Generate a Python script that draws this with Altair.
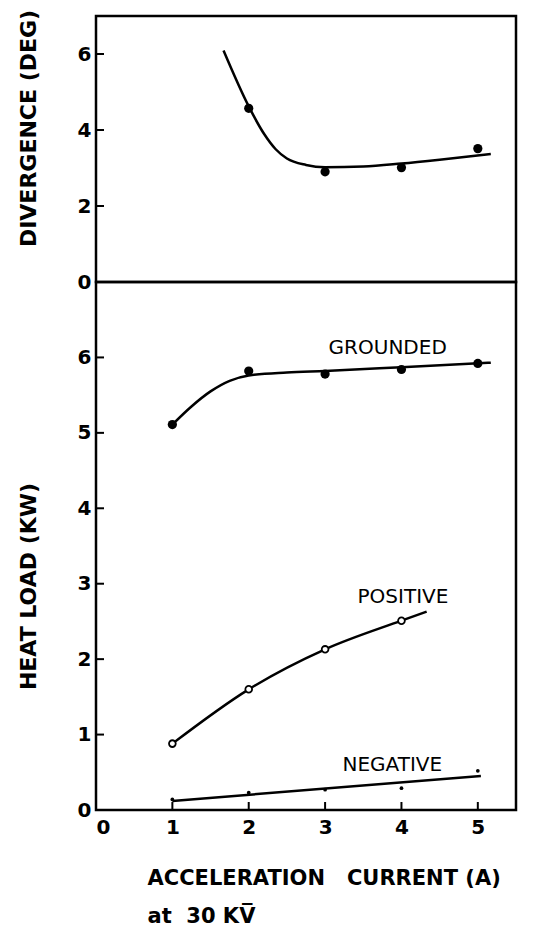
import altair as alt
import pandas as pd

# ---- tick values ----
x_tick_labels = [0, 1, 2, 3, 4, 5]
x_inner_ticks = [1, 2, 3, 4, 5]
div_tick_labels = [0, 2, 4, 6]
div_inner_ticks = [2, 4, 6]
heat_tick_labels = [0, 1, 2, 3, 4, 5, 6]
heat_inner_ticks = [1, 2, 3, 4, 5, 6]

# ---- divergence (deg) ----
div_x = [2, 3, 4, 5]
div_y = [4.57, 2.90, 3.01, 3.51]
div_fit_x = [1.67, 2.0, 2.2, 2.35, 2.5, 2.75, 3.0, 3.5, 4.0, 4.5, 5.17]
div_fit_y = [6.09, 4.62, 3.9, 3.5, 3.25, 3.08, 3.02, 3.04, 3.12, 3.22, 3.37]

# ---- heat load (kW) ----
current = [1, 2, 3, 4, 5]
grounded = [5.11, 5.82, 5.78, 5.84, 5.92]
grounded_fit_x = [1.0, 1.25, 1.5, 1.75, 2.0, 2.5, 3.0, 4.0, 5.17]
grounded_fit_y = [5.11, 5.35, 5.55, 5.69, 5.76, 5.80, 5.82, 5.87, 5.93]

positive_x = [1, 2, 3, 4]
positive = [0.88, 1.60, 2.13, 2.51]
positive_fit_x = [1.0, 2.0, 3.0, 4.0, 4.33]
positive_fit_y = [0.88, 1.60, 2.13, 2.51, 2.63]

negative = [0.14, 0.23, 0.27, 0.29, 0.52]
negative_fit_x = [1.0, 5.04]
negative_fit_y = [0.12, 0.45]

label_text = ["GROUNDED", "POSITIVE", "NEGATIVE"]
label_x = [3.82, 4.02, 3.88]
label_y = [6.12, 2.83, 0.59]

W = 420
H_TOP = 266
H_BOT = 528
FONT = "DejaVu Sans"
NB = "\u00a0"

xs = alt.Scale(domain=[0, 5.5], nice=False, zero=False)
ys_div = alt.Scale(domain=[0, 7], nice=False, zero=False)
ys_heat = alt.Scale(domain=[0, 7], nice=False, zero=False)

div_axis = alt.Axis(values=div_tick_labels, title="DIVERGENCE" + NB + "(DEG)",
                    titleX=-61, titleY=112, titleAngle=270,
                    titleAlign="center", titleBaseline="alphabetic")
heat_axis = alt.Axis(values=heat_tick_labels, title="HEAT LOAD (KW)",
                     titleX=-61, titleY=304, titleAngle=270,
                     titleAlign="center", titleBaseline="alphabetic")
x_axis = alt.Axis(values=x_tick_labels,
                  title=["ACCELERATION" + NB * 3 + "CURRENT" + NB + "(A)",
                         "at" + NB * 2 + "30" + NB + "KV\u0305"],
                  titleX=51, titleY=74, titleAlign="left",
                  titleBaseline="alphabetic", titleLineHeight=38,
                  titleAnchor="start")

X_TOP = alt.X("x:Q", scale=xs, axis=None)
Y_DIV = alt.Y("y:Q", scale=ys_div, axis=div_axis)
X_BOT = alt.X("x:Q", scale=xs, axis=x_axis)
Y_HEAT = alt.Y("y:Q", scale=ys_heat, axis=heat_axis)

# ---- top panel ----
df_div_ticks = pd.DataFrame({"y": div_inner_ticks})
df_div_fit = pd.DataFrame({"x": div_fit_x, "y": div_fit_y})
df_div_pts = pd.DataFrame({"x": div_x, "y": div_y})

top_ticks = alt.Chart(df_div_ticks).mark_rule(color="black", strokeWidth=2).encode(
    y=Y_DIV, x=alt.value(0), x2=alt.value(8))
top_line = alt.Chart(df_div_fit).mark_line(
    color="black", strokeWidth=2.5, interpolate="monotone").encode(x=X_TOP, y=Y_DIV)
top_pts = alt.Chart(df_div_pts).mark_point(
    filled=True, color="black", size=85, opacity=1).encode(x=X_TOP, y=Y_DIV)

top = alt.layer(top_ticks, top_line, top_pts).properties(width=W, height=H_TOP)

# ---- bottom panel ----
df_heat_ticks = pd.DataFrame({"y": heat_inner_ticks})
df_x_ticks = pd.DataFrame({"x": x_inner_ticks})
df_g_fit = pd.DataFrame({"x": grounded_fit_x, "y": grounded_fit_y})
df_g_pts = pd.DataFrame({"x": current, "y": grounded})
df_p_fit = pd.DataFrame({"x": positive_fit_x, "y": positive_fit_y})
df_p_pts = pd.DataFrame({"x": positive_x, "y": positive})
df_n_fit = pd.DataFrame({"x": negative_fit_x, "y": negative_fit_y})
df_n_pts = pd.DataFrame({"x": current, "y": negative})
df_labels = pd.DataFrame({"x": label_x, "y": label_y, "t": label_text})

b_yticks = alt.Chart(df_heat_ticks).mark_rule(color="black", strokeWidth=2).encode(
    y=Y_HEAT, x=alt.value(0), x2=alt.value(8))
b_xticks = alt.Chart(df_x_ticks).mark_rule(color="black", strokeWidth=2).encode(
    x=X_BOT, y=alt.value(H_BOT - 8), y2=alt.value(H_BOT))
line_kw = dict(color="black", strokeWidth=2.5, interpolate="monotone")
g_line = alt.Chart(df_g_fit).mark_line(**line_kw).encode(x=X_BOT, y=Y_HEAT)
p_line = alt.Chart(df_p_fit).mark_line(**line_kw).encode(x=X_BOT, y=Y_HEAT)
n_line = alt.Chart(df_n_fit).mark_line(**line_kw).encode(x=X_BOT, y=Y_HEAT)
g_pts = alt.Chart(df_g_pts).mark_point(
    filled=True, color="black", size=85, opacity=1).encode(x=X_BOT, y=Y_HEAT)
p_pts = alt.Chart(df_p_pts).mark_point(
    filled=True, fill="white", stroke="black", strokeWidth=1.8, size=45,
    opacity=1).encode(x=X_BOT, y=Y_HEAT)
n_pts = alt.Chart(df_n_pts).mark_point(
    filled=True, color="black", size=14, opacity=1).encode(x=X_BOT, y=Y_HEAT)
labels = alt.Chart(df_labels).mark_text(
    font=FONT, fontSize=20, color="black", align="center", baseline="middle").encode(
    x=X_BOT, y=Y_HEAT, text="t:N")

bottom = alt.layer(b_yticks, b_xticks, g_line, p_line, n_line,
                   g_pts, p_pts, n_pts, labels).properties(width=W, height=H_BOT)

chart = (
    alt.vconcat(top, bottom, spacing=0, bounds="flush")
    .properties(padding={"left": 7, "top": 0, "right": 5, "bottom": 0},
                background="white")
    .configure_view(stroke="black", strokeWidth=2.5)
    .configure_axis(
        grid=False, domain=False, ticks=False,
        labelFont=FONT, labelFontSize=20, labelFontWeight="bold",
        labelColor="black", labelPadding=5,
        titleFont=FONT, titleFontSize=22, titleFontWeight="bold",
        titleColor="black")
    .configure_axisX(labelPadding=7, titleFontSize=21)
)

chart.save("out.html", embed_options={"renderer": "svg", "actions": False})
